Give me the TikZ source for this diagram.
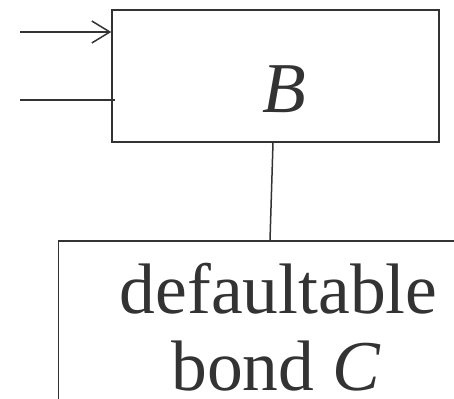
\documentclass[tikz,border=0pt]{standalone}
\usepackage{fontspec}
\setmainfont{Liberation Serif}
\usetikzlibrary{arrows.meta}
\definecolor{ink}{HTML}{333333}
\begin{document}
\begin{tikzpicture}[x=1pt,y=-1pt,
  boxstyle/.style={draw=ink,line width=1.5pt,inner sep=0pt,rectangle},
  wire/.style={draw=ink,line width=1.5pt},
  bigtext/.style={text=ink,inner sep=0pt,anchor=base,font=\fontsize{71.5}{78}\selectfont}]
\useasboundingbox (0,0) rectangle (454,398);
\clip (0,0) rectangle (454,398);
\node[boxstyle,minimum width=327pt,minimum height=131.5pt] (boxB) at (275.5,76) {};
\node[bigtext] (Btext) at (284,113) {\textit{B}};
\node[boxstyle,minimum width=441.7pt,minimum height=209pt] (C) at (279.15,345.5) {};
\node[bigtext] (Ctext1) at (278.5,313) {defaultable};
\node[bigtext] (Ctext2) at (276,390) {bond \textit{C}};
\coordinate (in1) at (20,32);
\coordinate (in2) at (20,100);
\draw[wire,-{Straight Barb[length=18pt,width=22pt,line width=1.5pt]}] (in1) -- (in1 -| boxB.west);
\draw[wire] (in2) -- ([xshift=4pt]in2 -| boxB.west);
\draw[wire] ([xshift=-2.5pt]boxB.south) -- ([xshift=-5.5pt]C.north -| boxB.south);
\end{tikzpicture}
\end{document}
